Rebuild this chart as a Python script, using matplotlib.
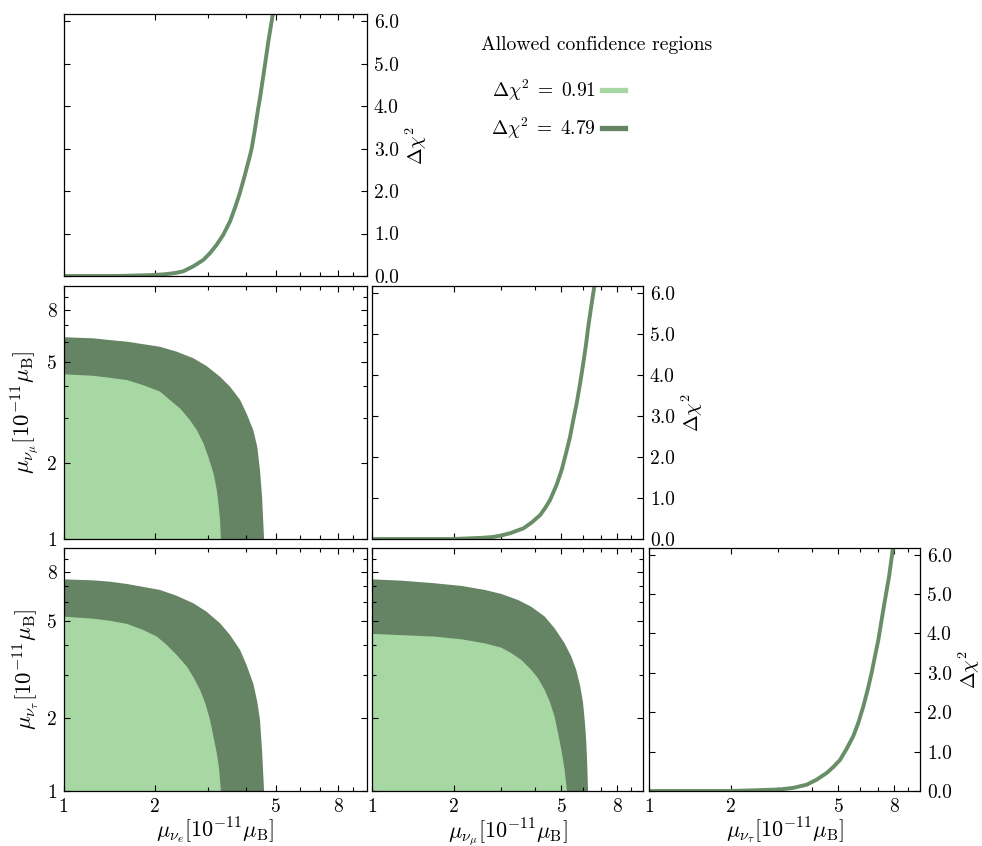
import matplotlib
matplotlib.use("Agg")
import matplotlib.pyplot as plt
from matplotlib.lines import Line2D
from matplotlib.ticker import FixedLocator, FixedFormatter, NullFormatter


# ------------------------------------------------------------
# DATA
# ------------------------------------------------------------

# 1D profiles: delta chi^2 versus each magnetic moment [1e-11 mu_B]
mu_e_prof = [1.0, 1.5, 1.93, 2.15, 2.33, 2.48, 2.68, 2.89, 3.04, 3.20, 3.36, 3.54,
             3.67, 3.81, 3.96, 4.12, 4.17, 4.27, 4.38, 4.44, 4.61, 4.73, 4.89, 4.97]
chi2_e_prof = [0.0, 0.0, 0.02, 0.04, 0.07, 0.11, 0.23, 0.38, 0.54, 0.74, 0.97, 1.29,
               1.60, 1.95, 2.38, 2.85, 3.01, 3.44, 3.95, 4.19, 4.97, 5.52, 6.15, 6.50]

mu_mu_prof = [1.0, 2.0, 2.57, 2.80, 2.97, 3.23, 3.62, 3.88, 4.17, 4.35, 4.54, 4.80,
              5.01, 5.20, 5.38, 5.53, 5.69, 5.86, 6.02, 6.16, 6.28, 6.44, 6.61, 6.70]
chi2_mu_prof = [0.0, 0.0, 0.03, 0.05, 0.08, 0.14, 0.26, 0.40, 0.58, 0.75, 0.95, 1.32,
                1.68, 2.09, 2.49, 2.90, 3.30, 3.79, 4.28, 4.73, 5.17, 5.66, 6.15, 6.50]

mu_tau_prof = [1.0, 2.0, 2.5, 3.04, 3.41, 3.82, 4.16, 4.53, 4.79, 5.07, 5.36,
               5.67, 5.92, 6.18, 6.41, 6.63, 6.82, 7.02, 7.22, 7.43, 7.69, 7.93, 8.05]
chi2_tau_prof = [0.0, 0.0, 0.02, 0.04, 0.08, 0.16, 0.29, 0.46, 0.61, 0.79, 1.07,
                 1.39, 1.73, 2.15, 2.57, 3.00, 3.42, 3.84, 4.35, 4.86, 5.45, 6.12, 6.50]

# 2D region boundaries, running from (1, top) round to (edge, 1)
# (mu_e, mu_mu)
em_dark_x = [1.0, 1.25, 1.42, 1.62, 2.08, 2.36, 2.68, 2.96, 3.28, 3.54, 3.82,
             4.01, 4.22, 4.35, 4.44, 4.51, 4.58]
em_dark_y = [6.26, 6.20, 6.10, 6.01, 5.74, 5.49, 5.17, 4.82, 4.37, 3.99, 3.54,
             3.13, 2.69, 2.31, 1.87, 1.47, 1.0]
em_light_x = [1.0, 1.25, 1.42, 1.62, 1.83, 2.08, 2.24, 2.42, 2.61, 2.75, 2.89,
              3.00, 3.12, 3.20, 3.24, 3.28, 3.30]
em_light_y = [4.47, 4.41, 4.33, 4.24, 4.05, 3.82, 3.54, 3.28, 2.95, 2.69, 2.39,
              2.11, 1.82, 1.56, 1.38, 1.19, 1.0]

# (mu_e, mu_tau)
et_dark_x = [1.0, 1.25, 1.42, 1.62, 2.08, 2.36, 2.68, 2.96, 3.28, 3.54, 3.82,
             4.01, 4.22, 4.35, 4.44, 4.51, 4.58]
et_dark_y = [7.43, 7.36, 7.27, 7.11, 6.72, 6.36, 5.92, 5.47, 4.90, 4.38, 3.80,
             3.30, 2.77, 2.33, 1.96, 1.47, 1.0]
et_light_x = [1.0, 1.25, 1.42, 1.62, 1.83, 2.03, 2.19, 2.36, 2.55, 2.68, 2.82,
              2.93, 3.04, 3.12, 3.20, 3.26, 3.30]
et_light_y = [5.22, 5.12, 5.02, 4.87, 4.60, 4.32, 3.99, 3.63, 3.25, 2.94, 2.60,
              2.30, 1.96, 1.67, 1.43, 1.22, 1.0]

# (mu_mu, mu_tau)
mt_dark_x = [1.0, 1.28, 1.70, 2.14, 2.61, 3.00, 3.46, 3.87, 4.34, 4.72, 5.14,
             5.44, 5.67, 5.87, 6.01, 6.11, 6.18, 6.23, 6.27]
mt_dark_y = [7.43, 7.34, 7.16, 6.98, 6.72, 6.47, 6.11, 5.73, 5.22, 4.67, 4.05,
             3.57, 3.15, 2.69, 2.30, 1.90, 1.57, 1.26, 1.0]
mt_light_x = [1.0, 1.28, 1.70, 2.14, 2.61, 3.00, 3.27, 3.56, 3.87, 4.10, 4.34,
              4.53, 4.72, 4.86, 5.00, 5.14, 5.24]
mt_light_y = [4.43, 4.38, 4.32, 4.21, 4.05, 3.89, 3.69, 3.46, 3.15, 2.91, 2.60,
              2.33, 2.02, 1.73, 1.47, 1.22, 1.0]

levels = ["0.91", "4.79"]
major_ticks = [1, 2, 5, 8]
minor_ticks = [3, 4, 6, 7, 9]
chi2_ticks = [0, 1, 2, 3, 4, 5, 6]

LIGHT = "#a7d7a3"
DARK = "#658463"
CURVE = "#688e67"

plt.rcParams.update({
    "font.family": "serif",
    "font.serif": ["cmr10"],
    "mathtext.fontset": "cm",
    "axes.unicode_minus": False,
    "axes.formatter.use_mathtext": True,
    "font.size": 14,
    "axes.linewidth": 0.9,
})

labels = [r"$\mu_{\nu_e}[10^{-11}\mu_{\rm B}]$",
          r"$\mu_{\nu_\mu}[10^{-11}\mu_{\rm B}]$",
          r"$\mu_{\nu_\tau}[10^{-11}\mu_{\rm B}]$"]


# ------------------------------------------------------------
# LAYOUT (pixel boxes of each panel)
# ------------------------------------------------------------

W, H = 982, 846
col_px = [(63.5, 367), (372, 643), (649, 920)]
row_px = [(14, 276), (285.7, 539), (548, 791)]


def make_axes(fig, r, c):
    x0, x1 = col_px[c]
    y0, y1 = row_px[r]
    return fig.add_axes([x0 / W, 1 - y1 / H, (x1 - x0) / W, (y1 - y0) / H])


def set_log_axis(axis, show_labels):
    axis.set_major_locator(FixedLocator(major_ticks))
    axis.set_minor_locator(FixedLocator(minor_ticks))
    axis.set_minor_formatter(NullFormatter())
    if show_labels:
        axis.set_major_formatter(FixedFormatter([str(t) for t in major_ticks]))
    else:
        axis.set_major_formatter(NullFormatter())


def style_ticks(ax):
    ax.tick_params(which="both", direction="in", top=True, right=True,
                   labelsize=14, pad=5)
    ax.tick_params(which="major", length=4, width=0.8)
    ax.tick_params(which="minor", length=3, width=0.8)


def plot_profile(ax, mu, chi2, show_xlabels):
    ax.plot(mu, chi2, color=CURVE, linewidth=2.8, solid_capstyle="butt")
    ax.set_xscale("log")
    ax.set_xlim(1, 10)
    set_log_axis(ax.xaxis, show_xlabels)
    ax.set_ylim(0, 6.17)
    ax.yaxis.set_major_locator(FixedLocator(chi2_ticks))
    ax.yaxis.set_major_formatter(FixedFormatter([f"{t:.1f}" for t in chi2_ticks]))
    ax.yaxis.set_minor_locator(FixedLocator([]))
    style_ticks(ax)
    ax.tick_params(axis="y", labelleft=False, labelright=True)
    ax.yaxis.set_label_position("right")
    ax.set_ylabel(r"$\Delta\chi^2$", fontsize=14.5, labelpad=3)


def plot_region(ax, dark_x, dark_y, light_x, light_y, show_xlabels, show_ylabels):
    # close each region through the (1, 1) corner
    ax.fill([1.0] + dark_x, [1.0] + dark_y, color=DARK, linewidth=0)
    ax.fill([1.0] + light_x, [1.0] + light_y, color=LIGHT, linewidth=0)
    ax.set_xscale("log")
    ax.set_yscale("log")
    ax.set_xlim(1, 10)
    ax.set_ylim(1, 10)
    set_log_axis(ax.xaxis, show_xlabels)
    set_log_axis(ax.yaxis, show_ylabels)
    style_ticks(ax)


# ------------------------------------------------------------
# FIGURE
# ------------------------------------------------------------

fig = plt.figure(figsize=(W / 100, H / 100), dpi=100)

ax00 = make_axes(fig, 0, 0)
plot_profile(ax00, mu_e_prof, chi2_e_prof, False)

ax10 = make_axes(fig, 1, 0)
plot_region(ax10, em_dark_x, em_dark_y, em_light_x, em_light_y, False, True)
ax10.set_ylabel(labels[1], fontsize=16.5, labelpad=4)

ax11 = make_axes(fig, 1, 1)
plot_profile(ax11, mu_mu_prof, chi2_mu_prof, False)

ax20 = make_axes(fig, 2, 0)
plot_region(ax20, et_dark_x, et_dark_y, et_light_x, et_light_y, True, True)
ax20.set_ylabel(labels[2], fontsize=16.5, labelpad=4)
ax20.set_xlabel(labels[0], fontsize=16, labelpad=0)

ax21 = make_axes(fig, 2, 1)
plot_region(ax21, mt_dark_x, mt_dark_y, mt_light_x, mt_light_y, True, False)
ax21.set_xlabel(labels[1], fontsize=16, labelpad=0)

ax22 = make_axes(fig, 2, 2)
plot_profile(ax22, mu_tau_prof, chi2_tau_prof, True)
ax22.set_xlabel(labels[2], fontsize=16, labelpad=0)

# legend for the two confidence levels
fig.text(597 / W, 1 - 45 / H, "Allowed confidence regions",
         ha="center", va="center", fontsize=14.2)
handles = [Line2D([], [], color=LIGHT, linewidth=3.8),
           Line2D([], [], color=DARK, linewidth=3.8)]
fig.legend(handles, [r"$\Delta\chi^2\;=\;%s$" % lv for lv in levels],
           fontsize=14, markerfirst=False, frameon=False,
           loc="upper left", bbox_to_anchor=(491 / W, 1 - 78 / H),
           borderpad=0, borderaxespad=0,
           handlelength=1.2, handletextpad=0.3, labelspacing=0.65)

fig.savefig("out.png", dpi=100)
